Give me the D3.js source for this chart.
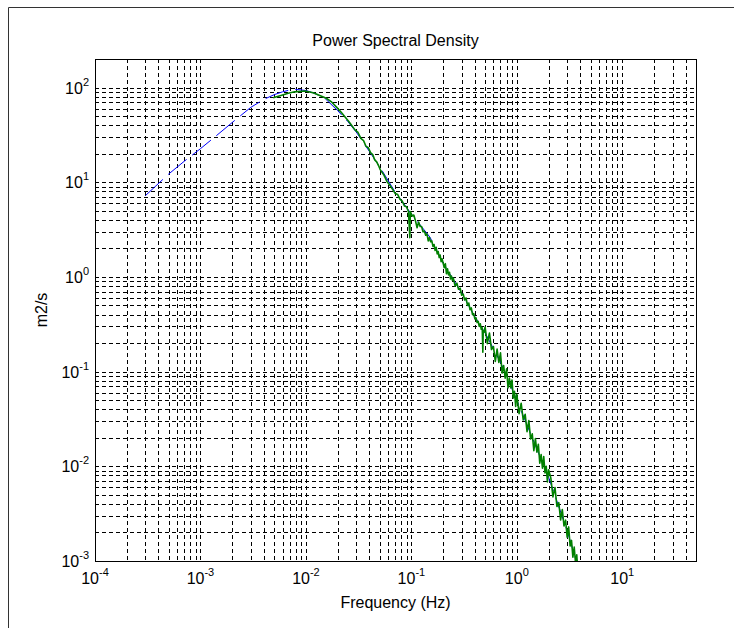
<!DOCTYPE html>
<html>
<head>
<meta charset="utf-8">
<script src="https://cdn.jsdelivr.net/npm/d3@7"></script>
<style>
  body { margin: 0; background: #fff; }
  text { font-family: Arial, "Liberation Sans", sans-serif; fill: #000; }
</style>
</head>
<body>
<svg id="chart"></svg>
<script>
// tick exponents (labels are 10^exp)
const xTickExps = [-4, -3, -2, -1, 0, 1];
const yTickExps = [-3, -2, -1, 0, 1, 2];

// model spectrum (blue dashed)
const blueFreq = [3e-4, 5e-4, 7e-4, 1e-3, 1.5e-3, 2e-3, 3e-3, 4e-3, 5e-3, 6e-3, 7e-3, 8e-3, 1e-2, 1.2e-2, 1.5e-2, 2e-2, 2.5e-2, 3e-2, 4e-2, 5e-2, 7e-2, 0.1, 0.15, 0.2, 0.3, 0.4, 0.5, 0.7, 1, 1.5, 2, 3, 4];
const bluePsd = [7.2, 12.2, 16.6, 22.6, 32.7, 42.7, 61.7, 75, 84, 90, 94, 95.5, 93, 87, 77.6, 57, 43.6, 33.9, 21.1, 14.6, 7.9, 4.62, 2.63, 1.40, 0.676, 0.38, 0.257, 0.126, 0.050, 0.0166, 0.00767, 0.00209, 0.00072];

// measured spectrum (green)
const greenFreq = [
  0.0049, 0.0059, 0.0068, 0.0078, 0.0098, 0.0117, 0.0137, 0.0156, 0.0176, 0.0195,
  0.0215, 0.0234, 0.0254, 0.0273, 0.0293, 0.0312, 0.0332, 0.0352, 0.0371, 0.039,
  0.041, 0.043, 0.0449, 0.0469, 0.0488, 0.0508, 0.0547, 0.0586, 0.0625, 0.0664,
  0.0703, 0.0742, 0.0781, 0.082, 0.0859, 0.0898, 0.0938, 0.0967, 0.0977, 0.1016,
  0.1055, 0.1094, 0.1133, 0.1172, 0.1211, 0.125, 0.1289, 0.1328, 0.1367, 0.1406,
  0.1445, 0.1484, 0.1523, 0.1563, 0.1602, 0.1641, 0.168, 0.1719, 0.1758, 0.1797,
  0.1836, 0.1875, 0.1914, 0.1953, 0.2, 0.205, 0.21, 0.215, 0.22, 0.225,
  0.23, 0.235, 0.24, 0.245, 0.25, 0.26, 0.27, 0.28, 0.29, 0.30,
  0.31, 0.32, 0.33, 0.34, 0.35, 0.36, 0.37, 0.38, 0.39, 0.40,
  0.41, 0.42, 0.43, 0.44, 0.45, 0.46, 0.47, 0.476, 0.48, 0.49,
  0.5, 0.525, 0.55, 0.575, 0.6, 0.625, 0.65, 0.675, 0.7, 0.725,
  0.75, 0.775, 0.8, 0.825, 0.85, 0.875, 0.9, 0.925, 0.95, 0.975,
  1.0, 1.05, 1.1, 1.15, 1.2, 1.25, 1.3, 1.35, 1.4, 1.45,
  1.5, 1.55, 1.6, 1.65, 1.7, 1.75, 1.8, 1.85, 1.9, 1.95,
  2.0, 2.1, 2.2, 2.3, 2.4, 2.5, 2.6, 2.7, 2.8, 2.9,
  3.0, 3.1, 3.2, 3.3, 3.4, 3.5, 3.6, 3.7, 3.8, 3.9, 4.0
];
const greenPsd = [
  78, 83, 87, 90, 92, 88, 82, 77, 70, 62,
  55, 49, 44, 39.5, 35.5, 33.5, 29, 27.5, 24, 23.2,
  20.5, 19.6, 17.2, 16.4, 15.0, 13.5, 12.0, 10.2, 9.3, 8.4,
  7.6, 7.4, 6.6, 6.3, 5.6, 5.5, 4.9, 2.6, 4.9, 4.4,
  4.5, 3.9, 3.3, 3.8, 3.4, 3.4, 3.0, 3.05, 2.75, 2.85,
  2.4, 2.6, 2.35, 2.4, 2.1, 2.2, 1.9, 2.05, 1.75, 1.85,
  1.6, 1.7, 1.45, 1.55, 1.40, 1.25, 1.38, 1.08, 1.22, 1.05,
  1.12, 0.95, 1.02, 0.92, 0.97, 0.80, 0.86, 0.74, 0.76, 0.64,
  0.66, 0.57, 0.60, 0.50, 0.53, 0.45, 0.47, 0.40, 0.41, 0.36,
  0.37, 0.33, 0.34, 0.30, 0.32, 0.28, 0.29, 0.16, 0.27, 0.26,
  0.296, 0.197, 0.256, 0.171, 0.184, 0.128, 0.173, 0.125, 0.158, 0.0966,
  0.116, 0.0854, 0.107, 0.0674, 0.0853, 0.0673, 0.0816, 0.0526, 0.0619, 0.0428,
  0.0575, 0.0360, 0.0463, 0.0308, 0.0354, 0.0232, 0.0304, 0.0194, 0.0220, 0.0146,
  0.0196, 0.0141, 0.0171, 0.0108, 0.0133, 0.00954, 0.0127, 0.00851, 0.0100, 0.00682,
  0.00920, 0.00754, 0.00475, 0.00598, 0.00376, 0.00413, 0.00271, 0.00350, 0.00234, 0.00270,
  0.00178, 0.00229, 0.00144, 0.00165, 0.00110, 0.00140, 0.000963, 0.00116, 0.000753, 0.000876, 0.000612
];

const W = 734, H = 628;
const plot = {left: 95, top: 59, right: 696, bottom: 561};

let svg = d3.select("#chart").attr("width", W).attr("height", H);

// figure window frame edges
svg.append("line").attr("x1", 8.5).attr("y1", 7.5).attr("x2", W).attr("y2", 7.5)
    .attr("stroke", "#333").attr("stroke-width", 1);
svg.append("line").attr("x1", 8.5).attr("y1", 7.5).attr("x2", 8.5).attr("y2", H)
    .attr("stroke", "#333").attr("stroke-width", 1);

let x = d3.scaleLog().domain([1e-4, 50]).range([plot.left, plot.right]);
let y = d3.scaleLog().domain([1e-3, 200]).range([plot.bottom, plot.top]);

svg.append("clipPath").attr("id", "clip")
    .append("rect")
    .attr("x", plot.left).attr("y", plot.top)
    .attr("width", plot.right - plot.left).attr("height", plot.bottom - plot.top);

// grid: every 1..9 x 10^k
let grid = svg.append("g").attr("stroke", "#000").attr("stroke-width", 1).attr("stroke-dasharray", "4,3");
grid.selectAll(".vgrid")
    .data(x.ticks())
    .enter()
    .append("line")
        .attr("x1", d => Math.round(x(d)) + 0.5)
        .attr("x2", d => Math.round(x(d)) + 0.5)
        .attr("y1", plot.top)
        .attr("y2", plot.bottom);
grid.selectAll(".hgrid")
    .data(y.ticks())
    .enter()
    .append("line")
        .attr("y1", d => Math.round(y(d)) + 0.5)
        .attr("y2", d => Math.round(y(d)) + 0.5)
        .attr("x1", plot.left)
        .attr("x2", plot.right);

let line = d3.line()
    .x(d => x(d[0]))
    .y(d => y(d[1]));

let curves = svg.append("g").attr("clip-path", "url(#clip)");

curves.append("path")
    .datum(blueFreq.map((f, i) => [f, bluePsd[i]]))
    .attr("fill", "none")
    .attr("stroke", "#0000ff")
    .attr("stroke-width", 1)
    .attr("stroke-dasharray", "24,7")
    .attr("d", line);

curves.append("path")
    .datum(greenFreq.map((f, i) => [f, greenPsd[i]]))
    .attr("fill", "none")
    .attr("stroke", "#008000")
    .attr("stroke-width", 1.6)
    .attr("stroke-linejoin", "round")
    .attr("d", line);

// axes box
svg.append("rect")
    .attr("x", plot.left + 0.5).attr("y", plot.top + 0.5)
    .attr("width", plot.right - plot.left).attr("height", plot.bottom - plot.top)
    .attr("fill", "none").attr("stroke", "#000").attr("stroke-width", 1);

// tick labels 10^k
let xLabels = svg.selectAll(".xlab")
    .data(xTickExps)
    .enter()
    .append("text")
        .attr("x", d => x(Math.pow(10, d)))
        .attr("y", 584)
        .attr("text-anchor", "middle")
        .style("font-size", "16px");
xLabels.append("tspan").text("10");
xLabels.append("tspan").attr("dy", -8).style("font-size", "11px").text(d => String(d));

let yLabels = svg.selectAll(".ylab")
    .data(yTickExps)
    .enter()
    .append("text")
        .attr("x", 89)
        .attr("y", d => y(Math.pow(10, d)) + 6)
        .attr("text-anchor", "end")
        .style("font-size", "16px");
yLabels.append("tspan").text("10");
yLabels.append("tspan").attr("dy", -8).style("font-size", "11px").text(d => String(d));

// title and axis labels
svg.append("text")
    .attr("x", (plot.left + plot.right) / 2)
    .attr("y", 46)
    .attr("text-anchor", "middle")
    .style("font-size", "16px")
    .text("Power Spectral Density");

svg.append("text")
    .attr("x", (plot.left + plot.right) / 2)
    .attr("y", 608)
    .attr("text-anchor", "middle")
    .style("font-size", "16px")
    .text("Frequency (Hz)");

svg.append("text")
    .attr("transform", "translate(47," + (plot.top + plot.bottom) / 2 + ") rotate(-90)")
    .attr("text-anchor", "middle")
    .style("font-size", "16px")
    .text("m2/s");
</script>
</body>
</html>
